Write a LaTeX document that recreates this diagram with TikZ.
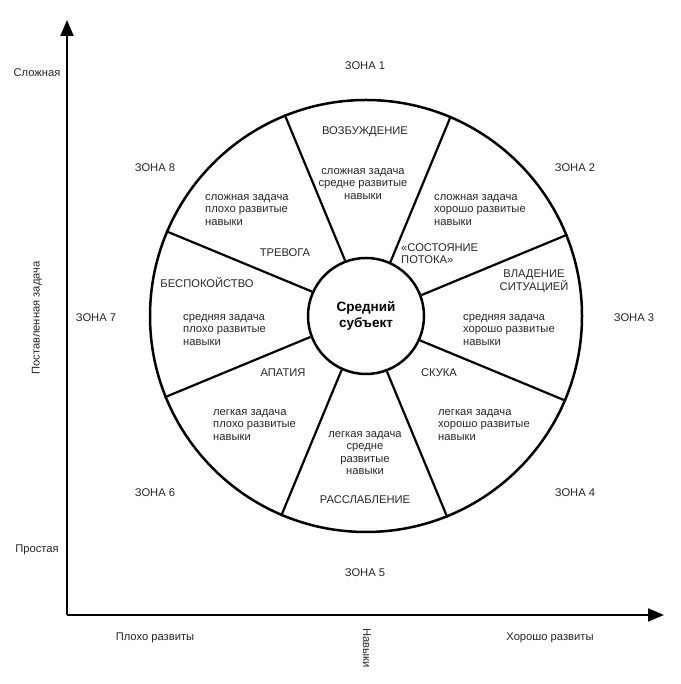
\documentclass[tikz,border=0pt]{standalone}
\usepackage{fontspec}
\setmainfont{Liberation Sans}
\usetikzlibrary{arrows.meta}
\begin{document}
\begin{tikzpicture}[x=1pt,y=1pt,
  txt/.style={inner sep=0pt, font=\fontsize{11.2}{12.6}\selectfont, text=black!85},
  lft/.style={txt, anchor=west, align=left},
  ctr/.style={txt, align=center},
  axis/.style={line width=2.2pt, -{Triangle[length=16pt,width=13pt]}},
  rim/.style={circle, draw, line width=2.5pt, inner sep=0pt},
  spoke/.style={line width=2.2pt}]
\useasboundingbox (0,0) rectangle (680,684);
% axes
\coordinate (O) at (67,69);
\coordinate (Ytop) at (67,664);
\coordinate (Xend) at (664,69);
\draw[axis] (O) -- (Ytop);
\draw[axis] (O) -- (Xend);
% wheel
\node[rim, minimum size=432pt] (wheel) at (366,368) {};
\foreach \a in {22.5,67.5,...,337.5}
  \draw[spoke] (wheel.\a) -- ++(\a+180:158);
\node[rim, fill=white, minimum size=116pt, align=center,
  font=\fontsize{13.5}{16}\selectfont\bfseries] (subj) at (366,368) {Средний\\субъект};
% axis labels
\node[ctr] (slozh) at (37,611) {Сложная};
\node[ctr, rotate=90] (zad) at (37,366) {Поставленная задача};
\node[ctr] (prost) at (37,134) {Простая};
\node[ctr] (ploho) at (155,46) {Плохо развиты};
\node[ctr, rotate=-90] (nav) at (367,36) {Навыки};
\node[ctr] (horosho) at (550,46) {Хорошо развиты};
% zones
\node[ctr] (z1) at (365,618) {ЗОНА 1};
\node[ctr] (z2) at (575,516) {ЗОНА 2};
\node[ctr] (z3) at (634,366) {ЗОНА 3};
\node[ctr] (z4) at (575,191) {ЗОНА 4};
\node[ctr] (z5) at (365,111) {ЗОНА 5};
\node[ctr] (z6) at (155,191) {ЗОНА 6};
\node[ctr] (z7) at (96,366) {ЗОНА 7};
\node[ctr] (z8) at (155,516) {ЗОНА 8};
% sectors
\node[ctr] (vozb) at (365,552) {ВОЗБУЖДЕНИЕ};
\node[ctr] (t1) at (363,500) {сложная задача\\средне развитые\\навыки};
\node[lft] (t2) at (434,474) {сложная задача\\хорошо развитые\\навыки};
\node[lft] (flow) at (401,430.5) {«СОСТОЯНИЕ\\ПОТОКА»};
\node[ctr] (vlad) at (534,402.5) {ВЛАДЕНИЕ\\СИТУАЦИЕЙ};
\node[lft] (t3) at (463,354) {средняя задача\\хорошо развитые\\навыки};
\node[ctr] (skuka) at (439,311) {СКУКА};
\node[lft] (t4) at (438,259) {легкая задача\\хорошо развитые\\навыки};
\node[ctr] (t5) at (365,231) {легкая задача\\средне\\развитые\\навыки};
\node[ctr] (rassl) at (365,184) {РАССЛАБЛЕНИЕ};
\node[ctr] (apat) at (283,311) {АПАТИЯ};
\node[lft] (t6) at (213,259) {легкая задача\\плохо развитые\\навыки};
\node[ctr] (bespok) at (207,401) {БЕСПОКОЙСТВО};
\node[lft] (t7) at (183,354) {средняя задача\\плохо развитые\\навыки};
\node[lft] (t8) at (205,474) {сложная задача\\плохо развитые\\навыки};
\node[ctr] (trev) at (285,431) {ТРЕВОГА};
\end{tikzpicture}
\end{document}
